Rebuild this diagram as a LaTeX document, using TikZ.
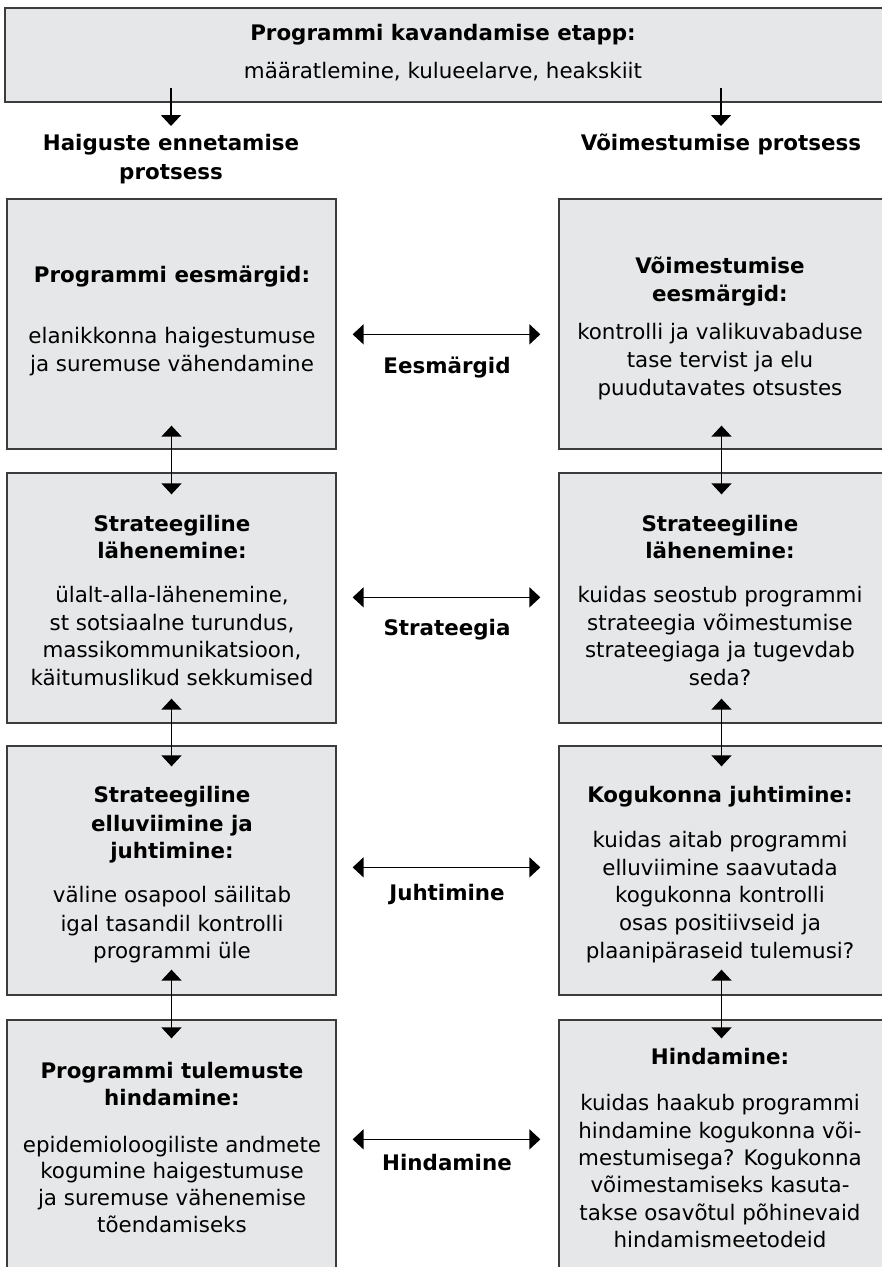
\documentclass[tikz,border=0pt]{standalone}
\usepackage{fontspec}
\setmainfont{DejaVu Sans}
\usetikzlibrary{arrows.meta}
\definecolor{boxfill}{HTML}{E6E7E8}
\definecolor{boxline}{HTML}{3C3C3C}
\begin{document}
\begin{tikzpicture}[x=1pt,y=-1pt,
  bx/.style={draw=boxline, fill=boxfill, line width=1.3pt, inner sep=0pt},
  tx/.style={font=\fontsize{21.4}{28}\selectfont, inner sep=0pt, outer sep=0pt, text height=15pt, text depth=5pt, anchor=center},
  hd/.style={tx, font=\fontsize{21.4}{28}\selectfont\bfseries},
  tip/.tip={Triangle[width=20pt,length=11pt]},
  arr/.style={line width=1.7pt, -tip},
  dbl/.style={line width=1.7pt, tip-tip}]
\useasboundingbox (0,0) rectangle (882,1267);
\fill[white] (0,0) rectangle (882,1267);

% boxes
\node[bx, minimum width=880pt, minimum height=94pt] (T) at (445,55) {};
\node[bx, minimum width=329pt, minimum height=250pt] (L1) at (171.5,324) {};
\node[bx, minimum width=329pt, minimum height=250pt] (L2) at (171.5,598) {};
\node[bx, minimum width=329pt, minimum height=249pt] (L3) at (171.5,870.5) {};
\node[bx, minimum width=329pt, minimum height=260pt] (L4) at (171.5,1150) {};
\node[bx, minimum width=325pt, minimum height=250pt] (R1) at (721.5,324) {};
\node[bx, minimum width=325pt, minimum height=250pt] (R2) at (721.5,598) {};
\node[bx, minimum width=325pt, minimum height=249pt] (R3) at (721.5,870.5) {};
\node[bx, minimum width=325pt, minimum height=260pt] (R4) at (721.5,1150) {};

% top box text
\node[hd] (Ta) at (443,35) {Programmi kavandamise etapp:};
\node[tx] (Tb) at (443,73) {määratlemine, kulueelarve, heakskiit};

% column headers
\node[hd] (H1a) at (171,145) {Haiguste ennetamise};
\node[hd] (H1b) at (171,174) {protsess};
\node[hd] (H2a) at (721,145) {Võimestumise protsess};

% left column
\node[hd] (L1a) at (172,277) {Programmi eesmärgid:};
\node[tx] (L1b) at (172,338) {elanikkonna haigestumuse};
\node[tx] (L1c) at (172,366) {ja suremuse vähendamine};

\node[hd] (L2a) at (172,526) {Strateegiline};
\node[hd] (L2b) at (172,553) {lähenemine:};
\node[tx] (L2c) at (172,597) {ülalt-alla-lähenemine,};
\node[tx] (L2d) at (172,625) {st sotsiaalne turundus,};
\node[tx] (L2e) at (172,652) {massikommunikatsioon,};
\node[tx] (L2f) at (172,680) {käitumuslikud sekkumised};

\node[hd] (L3a) at (172,797) {Strateegiline};
\node[hd] (L3b) at (172,826) {elluviimine ja};
\node[hd] (L3c) at (172,853) {juhtimine:};
\node[tx] (L3d) at (172,897) {väline osapool säilitab};
\node[tx] (L3e) at (172,926) {igal tasandil kontrolli};
\node[tx] (L3f) at (172,953) {programmi üle};

\node[hd] (L4a) at (172,1073) {Programmi tulemuste};
\node[hd] (L4b) at (172,1100) {hindamine:};
\node[tx] (L4c) at (172,1147) {epidemioloogiliste andmete};
\node[tx] (L4d) at (172,1173) {kogumine haigestumuse};
\node[tx] (L4e) at (172,1200) {ja suremuse vähenemise};
\node[tx] (L4f) at (172,1227) {tõendamiseks};

% right column
\node[hd] (R1a) at (720,268) {Võimestumise};
\node[hd] (R1b) at (720,296) {eesmärgid:};
\node[tx] (R1c) at (720,334) {kontrolli ja valikuvabaduse};
\node[tx] (R1d) at (720,362) {tase tervist ja elu};
\node[tx] (R1e) at (720,390) {puudutavates otsustes};

\node[hd] (R2a) at (720,526) {Strateegiline};
\node[hd] (R2b) at (720,553) {lähenemine:};
\node[tx] (R2c) at (720,597) {kuidas seostub programmi};
\node[tx] (R2d) at (720,625) {strateegia võimestumise};
\node[tx] (R2e) at (720,652) {strateegiaga ja tugevdab};
\node[tx] (R2f) at (720,680) {seda?};

\node[hd] (R3a) at (720,797) {Kogukonna juhtimine:};
\node[tx] (R3b) at (720,842) {kuidas aitab programmi};
\node[tx] (R3c) at (720,870) {elluviimine saavutada};
\node[tx] (R3d) at (720,897) {kogukonna kontrolli};
\node[tx] (R3e) at (720,925) {osas positiivseid ja};
\node[tx] (R3f) at (720,953) {plaanipäraseid tulemusi?};

\node[hd] (R4a) at (720,1059) {Hindamine:};
\node[tx] (R4b) at (720,1105) {kuidas haakub programmi};
\node[tx] (R4c) at (720,1133) {hindamine kogukonna või-};
\node[tx] (R4d) at (720,1160) {mestumisega? Kogukonna};
\node[tx] (R4e) at (720,1187) {võimestamiseks kasuta-};
\node[tx] (R4f) at (720,1215) {takse osavõtul põhinevaid};
\node[tx] (R4g) at (720,1242) {hindamismeetodeid};

% middle labels
\node[hd] (M1) at (447,368) {Eesmärgid};
\node[hd] (M2) at (447,630) {Strateegia};
\node[hd] (M3) at (447,895) {Juhtimine};
\node[hd] (M4) at (447,1165) {Hindamine};

% top arrows
\coordinate (t1) at (171,88);
\coordinate (t2) at (721,88);
\draw[arr] (t1) -- ([yshift=9pt]H1a.north);
\draw[arr] (t2) -- ([yshift=9pt]H2a.north);

% vertical double arrows
\draw[dbl] ([yshift=24pt]L1.south) -- ([yshift=-22pt]L2.north);
\draw[dbl] ([yshift=25pt]L2.south) -- ([yshift=-21pt]L3.north);
\draw[dbl] ([yshift=26pt]L3.south) -- ([yshift=-19pt]L4.north);
\draw[dbl] ([yshift=24pt]R1.south) -- ([yshift=-22pt]R2.north);
\draw[dbl] ([yshift=25pt]R2.south) -- ([yshift=-21pt]R3.north);
\draw[dbl] ([yshift=26pt]R3.south) -- ([yshift=-19pt]R4.north);

% horizontal double arrows
\draw[dbl] ([xshift=16pt,yshift=-136pt]L1.north east) -- ([xshift=-18pt,yshift=-136pt]R1.north west);
\draw[dbl] ([xshift=16pt,yshift=-125pt]L2.north east) -- ([xshift=-18pt,yshift=-125pt]R2.north west);
\draw[dbl] ([xshift=16pt,yshift=-122pt]L3.north east) -- ([xshift=-18pt,yshift=-122pt]R3.north west);
\draw[dbl] ([xshift=16pt,yshift=-120pt]L4.north east) -- ([xshift=-18pt,yshift=-120pt]R4.north west);
\end{tikzpicture}
\end{document}
